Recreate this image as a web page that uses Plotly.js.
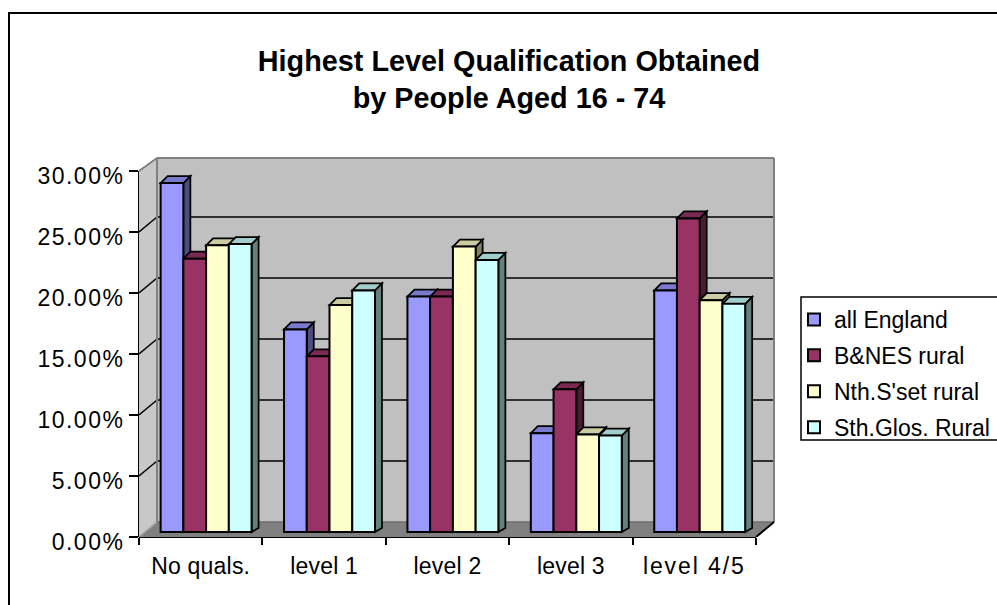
<!DOCTYPE html>
<html>
<head>
<meta charset="utf-8">
<script src="https://cdn.plot.ly/plotly-3.0.1.min.js"></script>
<style>
html,body{margin:0;padding:0;background:#fff;overflow:hidden}
.ytick text{letter-spacing:1.5px}
.xtick text{letter-spacing:.2px}
.xtick text[data-unformatted="level 4/5"]{letter-spacing:1.9px}
</style>
</head>
<body>
<div id="chart" style="width:997px;height:605px"></div>
<script>
// ---- data ----
const categories = ["No quals.", "level 1", "level 2", "level 3", "level 4/5"];
const allEngland = [28.6, 16.6, 19.3, 8.1, 19.8];
const bnesRural = [22.4, 14.4, 19.3, 11.7, 25.7];
const nthSsetRural = [23.5, 18.6, 23.4, 8.0, 19.0];
const sthGlosRural = [23.6, 19.8, 22.3, 7.9, 18.7];
const seriesNames = ["all England", "B&NES rural", "Nth.S'set rural", "Sth.Glos. Rural"];
const yTicks = [0, 5, 10, 15, 20, 25, 30];
const yTickLabels = ["0.00%", "5.00%", "10.00%", "15.00%", "20.00%", "25.00%", "30.00%"];

// ---- style ----
const frontColors = ["#9999FF", "#993366", "#FFFFCC", "#CCFFFF"];
const topColors = ["#7A7ACC", "#7A2952", "#CCCCA3", "#A3CCCC"];
const sideColors = ["#4D4D80", "#4D1A33", "#808066", "#668080"];
const FONT = "Liberation Sans, Arial, sans-serif";

// ---- geometry (pixels of the plot box, converted to axis units) ----
const L = 139, R = 776, T = 153, B = 537;
const pxPerCat = 123.4, pxPerPct = 12.2;
const xMax = (R - L) / pxPerCat, yMax = (B - T) / pxPerPct;
const wallDx = 18 / pxPerCat, wallDy = 15 / pxPerPct, wallTopDy = 13 / pxPerPct;
const barBase = 5 / pxPerPct, barShift = 5.4 / pxPerCat;
const barDxU = 7 / pxPerCat, barTopDy = 7 / pxPerPct, barBotDy = 4 / pxPerPct;
const groupFrac = 0.737, barW = groupFrac / 4;
const nCat = categories.length;

const poly = (pts) => "M" + pts.map(p => p[0] + "," + p[1]).join("L") + "Z";
const fill = (pts, fc, lc, lw) => ({type: "path", xref: "x", yref: "y", layer: "below", path: poly(pts),
  fillcolor: fc, line: {color: lc || fc, width: lw === undefined ? 0 : lw}});
const seg = (x0, y0, x1, y1, c, w) => ({type: "line", xref: "x", yref: "y", layer: "below", x0, y0, x1, y1, line: {color: c, width: w}});
const pseg = (x0, y0, x1, y1, c, w) => ({type: "line", xref: "paper", yref: "paper", layer: "below",
  x0: x0 / xMax, y0: y0 / yMax, x1: x1 / xMax, y1: y1 / yMax, line: {color: c, width: w}});
const pagePx = (px, py) => [(px - L) / (R - L), (B - py) / (B - T)];

const shapes = [];
// chart frame (runs off the right and bottom of the picture)
const f0 = pagePx(9, 13), f1 = pagePx(1010, 620);
shapes.push({type: "rect", xref: "paper", yref: "paper", layer: "below", x0: f0[0], y0: f0[1], x1: f1[0], y1: f1[1],
  line: {color: "#000", width: 2}, fillcolor: "rgba(0,0,0,0)"});
// legend box
const l0 = pagePx(801, 297), l1 = pagePx(1010, 440);
shapes.push({type: "rect", xref: "paper", yref: "paper", layer: "below", x0: l0[0], y0: l0[1], x1: l1[0], y1: l1[1],
  line: {color: "#000", width: 1.5}, fillcolor: "#fff"});

// walls and floor
const wallR = nCat + wallDx + 0;
shapes.push(fill([[wallDx, wallDy], [wallR, wallDy], [wallR, 30 + wallTopDy], [wallDx, 30 + wallTopDy]], "#C0C0C0"));
shapes.push(fill([[0, 0], [wallDx, wallDy], [wallDx, 30 + wallTopDy], [0, 30]], "#C8C8C8"));
shapes.push(fill([[0, 0], [nCat, 0], [wallR, wallDy], [wallDx, wallDy]], "#808080"));
// gridlines on the walls
yTicks.slice(1, -1).forEach(v => {
  shapes.push(seg(0, v, wallDx, v + wallDy, "#000", 1.5));
  shapes.push(seg(wallDx, v + wallDy, wallR, v + wallDy, "#000", 1.5));
});
// wall edges
shapes.push(seg(0, 30, wallDx, 30 + wallTopDy, "#808080", 2));
shapes.push(seg(wallDx, 30 + wallTopDy, wallR, 30 + wallTopDy, "#808080", 2));
shapes.push(seg(wallR, 30 + wallTopDy, wallR, wallDy, "#808080", 2));
shapes.push(seg(wallDx, 30 + wallTopDy, wallDx, wallDy, "#808080", 2));
shapes.push(seg(wallDx, wallDy, wallR, wallDy, "#6E6E6E", 1.5));
shapes.push(seg(0, 0, wallDx, wallDy, "#A0A0A0", 1.5));
shapes.push(seg(nCat, 0, wallR, wallDy, "#000", 2));
// axis lines
shapes.push(pseg(0, 0, 0, 30, "#000", 2));
shapes.push(pseg(0, 0, nCat, 0, "#000", 2));

// 3-D tops and sides of the bars, left to right so nearer faces overlap
const allSeries = [allEngland, bnesRural, nthSsetRural, sthGlosRural];
for (let c = 0; c < nCat; c++) {
  allSeries.forEach((vals, s) => {
    const x0 = c + 0.5 + barShift - groupFrac / 2 + s * barW, x1 = x0 + barW;
    const top = barBase + vals[c];
    shapes.push(fill([[x1, barBase], [x1 + barDxU, barBase + barBotDy], [x1 + barDxU, top + barTopDy], [x1, top]], sideColors[s], "#000", 1.75));
    shapes.push(fill([[x0, top], [x1, top], [x1 + barDxU, top + barTopDy], [x0 + barDxU, top + barTopDy]], topColors[s], "#000", 1.75));
  });
}

// front faces: ordinary bars
const xPos = categories.map((_, i) => i + 0.5 + barShift);
const traces = allSeries.map((vals, s) => ({
  type: "bar", name: seriesNames[s], x: xPos, y: vals, base: barBase,
  legendgroup: "g" + s,
  marker: {color: frontColors[s], line: {color: "#000", width: 2}},
  hoverinfo: "skip"
}));

const legendPos = pagePx(794, 298);
const layout = {
  width: 997, height: 605,
  paper_bgcolor: "#fff", plot_bgcolor: "rgba(0,0,0,0)",
  margin: {l: L, r: 997 - R, t: T, b: 605 - B, pad: 0, autoexpand: false},
  font: {family: FONT, color: "#000", size: 22},
  title: {text: "<b>Highest Level Qualification Obtained<br>by People Aged 16 - 74</b>",
    font: {family: FONT, size: 28.8, color: "#000"},
    x: 509 / 997, xref: "container", xanchor: "center", y: 1 - 71 / 605, yref: "container", yanchor: "middle"},
  barmode: "group", bargap: 1 - groupFrac, bargroupgap: 0,
  showlegend: true,
  legend: {x: legendPos[0], y: legendPos[1], xanchor: "left", yanchor: "top",
    bgcolor: "rgba(0,0,0,0)", borderwidth: 0, traceorder: "grouped", tracegroupgap: 3,
    font: {family: FONT, size: 23, color: "#000"}},
  xaxis: {range: [0, xMax], tickmode: "array", tickvals: categories.map((_, i) => i + 0.5), ticktext: categories,
    ticks: "", showgrid: false, zeroline: false, showline: false, tickangle: 0, ticklabelstandoff: 13,
    minor: {tick0: 0, dtick: 1, ticks: "outside", ticklen: 7, tickwidth: 2, tickcolor: "#000", showgrid: false},
    tickfont: {family: FONT, size: 23, color: "#000"}, fixedrange: true},
  yaxis: {range: [0, yMax], tickmode: "array", tickvals: yTicks, ticktext: yTickLabels, ticklabelshift: 5,
    ticks: "outside", ticklen: 9, tickwidth: 2, tickcolor: "#000", showgrid: false, zeroline: false, showline: false,
    tickfont: {family: FONT, size: 23, color: "#000"}, fixedrange: true},
  shapes: shapes
};
Plotly.newPlot("chart", traces, layout, {displayModeBar: false, staticPlot: true});
</script>
</body>
</html>
